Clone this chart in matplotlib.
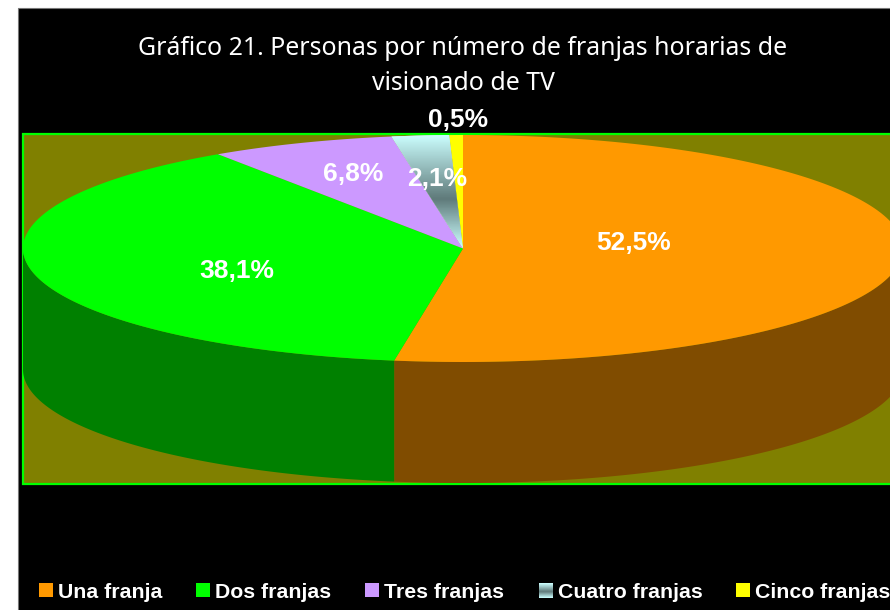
import numpy as np
import matplotlib
matplotlib.use("Agg")
import matplotlib.pyplot as plt
from matplotlib.colors import LinearSegmentedColormap
from matplotlib.patches import Polygon, Rectangle

categorias = ["Una franja", "Dos franjas", "Tres franjas", "Cuatro franjas", "Cinco franjas"]
valores = [52.5, 38.1, 6.8, 2.1, 0.5]
etiquetas = ["52,5%", "38,1%", "6,8%", "2,1%", "0,5%"]
cores = ["#FF9900", "#00FF00", "#CC99FF", "#CCFFFF", "#FFFF00"]
cores_lado = ["#804C00", "#008000", "#664D80", "#668080", "#808000"]

# geometria da elipse, em pixeis
cx, cy = 463, 248.5
rx, ry = 440, 113.5
altura = 121
pos_etiquetas = [(633.5, 243), (236.5, 271), (353, 174), (437, 179), (458.5, 120)]
pos_legenda = [(39, 58), (196, 215), (365, 384), (539, 558), (736, 755)]

gradiente = LinearSegmentedColormap.from_list(
    "cuatro", [(0, "#CCFFFF"), (0.57, "#5F7A7A"), (1, "#CCFFFF")])


def arco(t0, t1, dy=0):
    # angulos em graus, a contar do topo no sentido dos ponteiros do relogio
    t = np.radians(np.linspace(t0, t1, 200))
    return np.column_stack([cx + rx * np.sin(t), cy - ry * np.cos(t) + dy])


fig = plt.figure(figsize=(8.9, 6.1), dpi=100, facecolor="white")
ax = fig.add_axes([0, 0, 1, 1])
ax.axis("off")

# fundo preto e area do grafico
ax.add_patch(Rectangle((17.5, 7.5), 900, 700, fc="black", ec="#777777", lw=0.8, zorder=0))
ax.add_patch(Rectangle((23, 134), 900, 350, fc="#808000", ec="#00FF00", lw=1.6, zorder=1))

# fatias
limites = np.concatenate([[0], np.cumsum(valores)]) / sum(valores) * 360
for i in range(len(valores)):
    t0, t1 = limites[i], limites[i + 1]
    a, b = max(t0, 90), min(t1, 270)
    if a < b:
        cima = arco(a, b)
        baixo = arco(b, a, altura)
        ax.add_patch(Polygon(np.vstack([cima, baixo]), fc=cores_lado[i], ec="none", zorder=2))

for i in range(len(valores)):
    pts = np.vstack([[cx, cy], arco(limites[i], limites[i + 1])])
    fatia = Polygon(pts, fc=cores[i], ec="none", zorder=3)
    ax.add_patch(fatia)
    if categorias[i] == "Cuatro franjas":
        img = ax.imshow(np.linspace(0, 1, 100).reshape(-1, 1), cmap=gradiente, aspect="auto",
                        extent=(pts[:, 0].min(), pts[:, 0].max(), cy, cy - ry), zorder=4)
        img.set_clip_path(fatia)

for txt, (x, y) in zip(etiquetas, pos_etiquetas):
    ax.text(x, y, txt, color="white", fontsize=19, fontweight="bold", family="Liberation Sans",
            ha="center", va="center", zorder=6)

# titulo
ax.text(463, 48.5, "Gráfico 21. Personas por número de franjas horarias de", color="white",
        fontsize=17.9, family="Noto Sans", ha="center", va="center", zorder=6)
ax.text(463, 83, "visionado de TV", color="white", fontsize=17.9, family="Noto Sans",
        ha="center", va="center", zorder=6)

# legenda
for i, (xm, xt) in enumerate(pos_legenda):
    ax.add_patch(Rectangle((xm, 583), 14, 14, fc=cores[i], ec="none", zorder=5))
    if categorias[i] == "Cuatro franjas":
        ax.imshow(np.linspace(0, 1, 30).reshape(-1, 1), cmap=gradiente, aspect="auto",
                  extent=(xm, xm + 14, 598, 583), zorder=5)
    ax.text(xt, 592, categorias[i], color="white", fontsize=15.3, fontweight="bold",
            family="Liberation Sans", ha="left", va="center", zorder=6)

ax.set_xlim(0, 890)
ax.set_ylim(610, 0)
fig.savefig("out.png", dpi=100, facecolor="white")
